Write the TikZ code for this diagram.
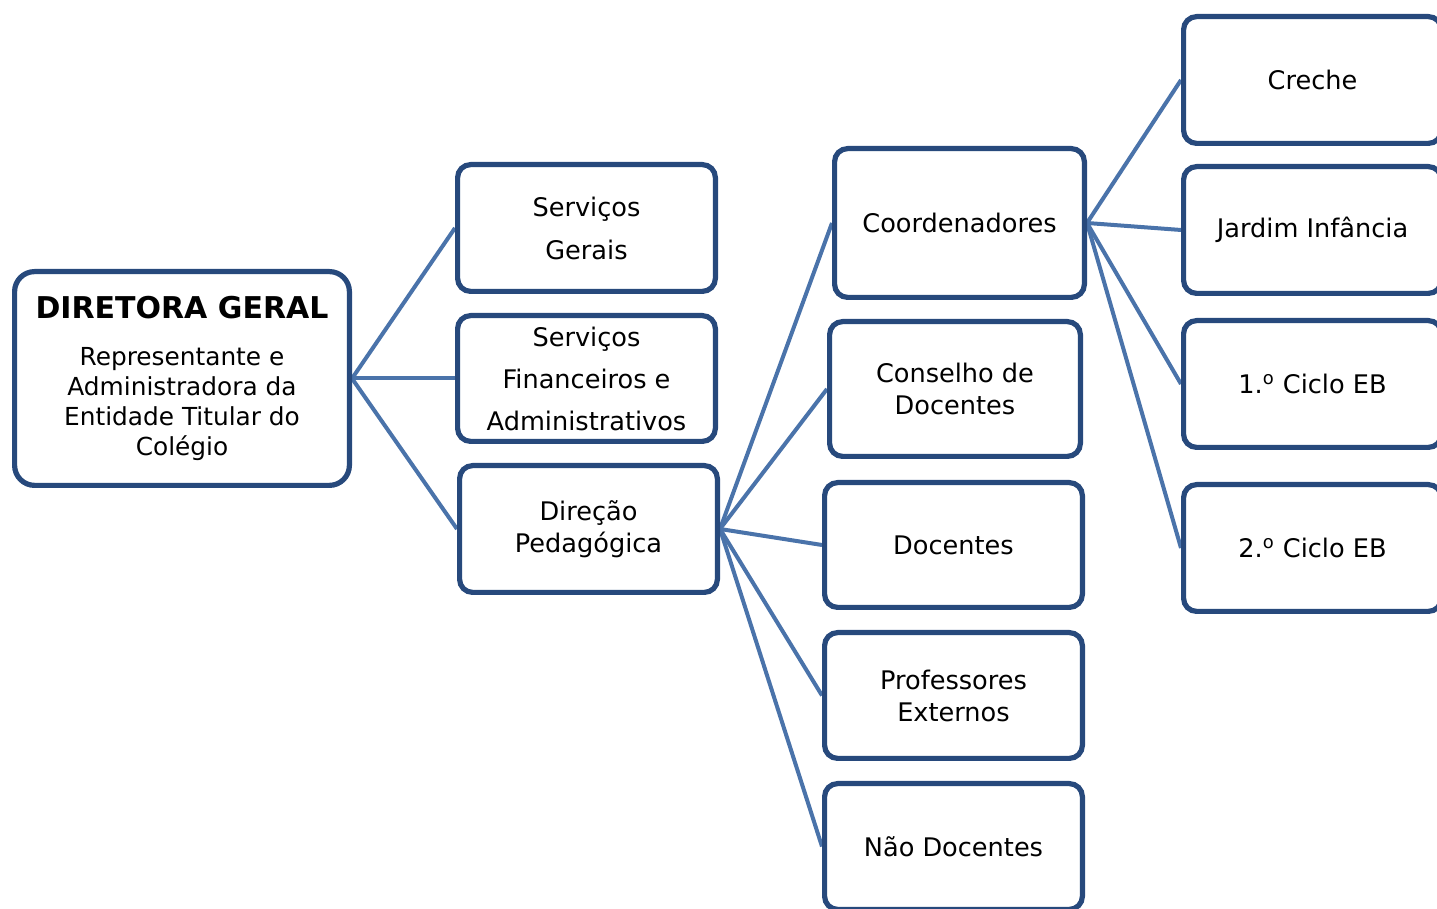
\documentclass[tikz,border=0pt]{standalone}
\usepackage{fontspec}
\setmainfont{DejaVu Sans}
\usepackage{xcolor}
\usepackage{tikz}
\usetikzlibrary{backgrounds}

\definecolor{boxblue}{HTML}{27497C}
\definecolor{lineblue}{HTML}{4A73AA}

\begin{document}
\begin{tikzpicture}[x=0.5pt,y=0.5pt,
  box/.style={draw=boxblue,line width=2.6pt,fill=white,rounded corners=6.5pt,
    minimum width=128.9pt,minimum height=63.4pt,inner sep=0pt,align=center,
    font=\fontsize{12.8}{16}\selectfont},
  link/.style={draw=lineblue,line width=2pt}]
  \useasboundingbox (0,0) rectangle (1437,909);
  \clip (0,0) rectangle (1437,909);

  \node[box,rounded corners=10pt,minimum width=167.4pt,minimum height=106.9pt,
    font=\fontsize{12.4}{15}\selectfont] (dir) at (182,530.5)
    {{\bfseries\fontsize{15}{18}\selectfont DIRETORA GERAL}\\[8.5pt]
     Representante e\\ Administradora da\\ Entidade Titular do\\ Colégio};

  \node[box] (sg) at (586.5,681) {Serviços\\[5.5pt] Gerais};
  \node[box,minimum height=62.9pt] (sf) at (586.5,530.5)
    {Serviços\\[5pt] Financeiros e\\[5pt] Administrativos};
  \node[box] (dp) at (588.5,380) {Direção\\ Pedagógica};

  \node[box,minimum width=124.9pt,minimum height=74.4pt] (co) at (959.5,686) {Coordenadores};
  \node[box,minimum width=125.4pt,minimum height=67.4pt] (cd) at (955,520) {Conselho de\\ Docentes};
  \node[box,minimum height=62.4pt] (do) at (953.5,364) {Docentes};
  \node[box,minimum height=62.9pt] (pe) at (953.5,213.5) {Professores\\ Externos};
  \node[box,minimum height=62.9pt] (nd) at (953.5,62.5) {Não Docentes};

  \node[box] (cr) at (1312.5,829) {Creche};
  \node[box] (ji) at (1312.5,679) {Jardim Infância};
  \node[box] (c1) at (1312.5,525) {1.\textsuperscript{o} Ciclo EB};
  \node[box] (c2) at (1312.5,361) {2.\textsuperscript{o} Ciclo EB};

  \begin{scope}[on background layer]
    \foreach \c in {sg,sf,dp}
      \draw[link] (dir.east) -- (\c.west);
    \foreach \c in {co,cd,do,pe,nd}
      \draw[link] (dp.east) -- (\c.west);
    \foreach \c in {cr,ji,c1,c2}
      \draw[link] (co.east) -- (\c.west);
  \end{scope}
\end{tikzpicture}
\end{document}
